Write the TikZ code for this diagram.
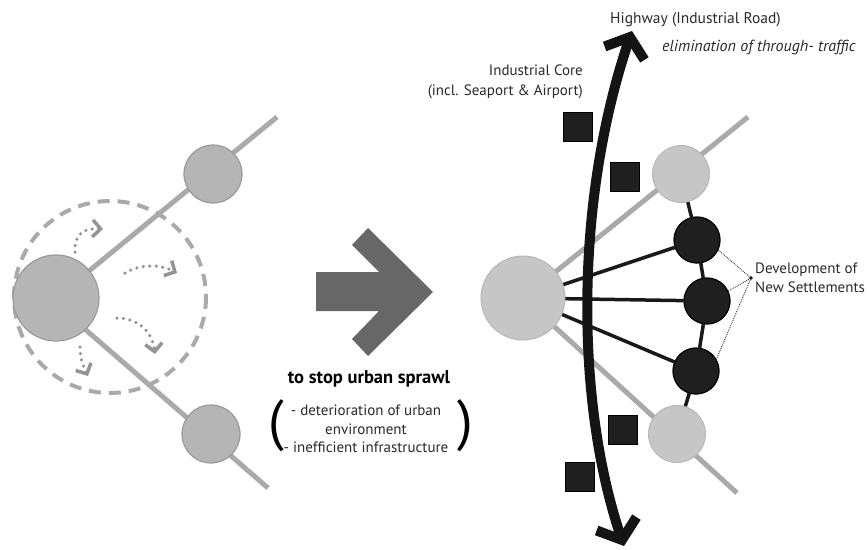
\documentclass[tikz,border=0pt]{standalone}
\usepackage{fontspec}
\setmainfont{PT Sans}
\usetikzlibrary{arrows.meta}
\definecolor{lgray}{HTML}{B5B5B5}
\definecolor{lgrayedge}{HTML}{9A9A9A}
\definecolor{rgray}{HTML}{C6C6C6}
\definecolor{linegray}{HTML}{AAAAAA}
\definecolor{arrowgray}{HTML}{676767}
\definecolor{txt}{HTML}{2A2A2A}
\tikzset{
  lcirc/.style={circle, fill=lgray, draw=lgrayedge, line width=1.2pt, inner sep=0pt},
  rcirc/.style={circle, fill=rgray, draw=lgrayedge!70, line width=1pt, inner sep=0pt},
  dcirc/.style={circle, fill=black!88, draw=black, line width=1pt, inner sep=0pt, minimum size=46pt},
  graylink/.style={draw=linegray, line width=5pt},
  blacklink/.style={draw=black!90, line width=3.5pt},
  sq/.style={rectangle, fill=black!88, draw=black, line width=0.8pt, minimum size=29pt, inner sep=0pt},
  dotarrow/.style={draw=black!42, line width=3.5pt, line cap=round, dash pattern=on 0pt off 6.5pt,
     -{Straight Barb[length=8pt,width=17pt,line width=3.5pt]}},
  lbl/.style={text=txt, font=\fontsize{15}{17}\selectfont, inner sep=0pt},
}
\begin{document}
\begin{tikzpicture}[x=1pt,y=-1pt]
\useasboundingbox (0,0) rectangle (867,549);
\fill[white] (0,0) rectangle (867,549);

% ---------------- left part ----------------
\coordinate (LUend) at (277,117);
\coordinate (LDend) at (268,488);
\coordinate (Lc) at (56,298);
\draw[draw=linegray, line width=4pt, dash pattern=on 12pt off 8pt] (110,297) circle (96);
\draw[graylink] (Lc) -- (LUend);
\draw[graylink] (Lc) ++(0,6) -- (LDend);
\node[lcirc, minimum size=86pt] (L) at (Lc) {};
\node[lcirc, minimum size=58pt] (LU) at (213,174) {};
\node[lcirc, minimum size=58pt] (LD) at (211,434) {};

\coordinate (a1s) at (75,252); \coordinate (a1e) at (103,229);
\coordinate (a2s) at (125,273); \coordinate (a2e) at (177,273);
\coordinate (a3s) at (117,318); \coordinate (a3e) at (155,354);
\coordinate (a4s) at (80,347);  \coordinate (a4e) at (88,376);
\draw[dotarrow] (a1s) .. controls (74,234) and (84,228) .. (a1e);
\draw[dotarrow] (a2s) .. controls (140,264) and (160,264) .. (a2e);
\draw[dotarrow] (a3s) .. controls (136,318) and (152,330) .. (a3e);
\draw[dotarrow] (a4s) .. controls (80,358) and (83,366) .. (a4e);

% ---------------- central arrow ----------------
\fill[arrowgray] (316,272) -- (379,272) -- (352,245) -- (368,228) -- (433,292)
  -- (368,356) -- (352,339) -- (379,311) -- (316,311) -- cycle;

\node[text=black, font=\fontsize{18.5}{20}\selectfont\bfseries, inner sep=0pt] (stop) at (369,379) {to stop urban sprawl};
\node[lbl, align=center, font=\fontsize{15}{18.5}\selectfont] (reasons) at (366,429)
  {- deterioration of urban\\ environment\\ - inefficient infrastructure};
\node[text=black, font=\fontsize{56}{56}\selectfont, inner sep=0pt] (lp) at (276,426) {(};
\node[text=black, font=\fontsize{56}{56}\selectfont, inner sep=0pt] (rp) at (465,426) {)};

% ---------------- right part ----------------
\coordinate (Rc) at (523,298);
\coordinate (RUend) at (748,117);
\coordinate (RDend) at (737,493);
\draw[graylink] (Rc) -- (RUend);
\draw[graylink] (Rc) -- (RDend);

\node[dcirc] (D1) at (697,240) {};
\node[dcirc] (D2) at (707,301) {};
\node[dcirc] (D3) at (696,371) {};
\node[rcirc, minimum size=57pt] (RU) at (681,174) {};
\node[rcirc, minimum size=57pt] (RD) at (677,434) {};

\draw[blacklink] (Rc) -- (D1);
\draw[blacklink] (Rc) -- (D2);
\draw[blacklink] (Rc) -- (D3);
\draw[blacklink] (RU) -- (D1);
\draw[blacklink] (D1) -- (D2);
\draw[blacklink] (D2) -- (D3);
\draw[blacklink] (D3) -- (RD);
\node[dcirc] at (D1) {};
\node[dcirc] at (D2) {};
\node[dcirc] at (D3) {};

% highway
\coordinate (Htop) at (632,31);
\coordinate (Hbot) at (624,546);
\draw[line width=10pt, draw=black!92,
  {Straight Barb[length=17pt,width=42pt]}-{Straight Barb[length=17pt,width=42pt]}]
  (Hbot) .. controls (575,400) and (575,200) .. (Htop);

\node[rcirc, minimum size=84pt] (R) at (Rc) {};

\node[sq] (S1) at (578,127) {};
\node[sq] (S2) at (625,177) {};
\node[sq] (S3) at (623,430) {};
\node[sq] (S4) at (580,477) {};

% labels
\node[lbl, anchor=west, font=\fontsize{15.5}{17}\selectfont] (hw) at (610,20) {Highway (Industrial Road)};
\node[lbl, anchor=west, font=\fontsize{16}{18}\selectfont\itshape] (elim) at (662,47) {elimination of through- traffic};
\node[lbl, anchor=east, align=right, font=\fontsize{15}{20}\selectfont] (core) at (583,82) {Industrial Core\\(incl. Seaport \& Airport)};

\coordinate (DP) at (751,278);
\draw[densely dotted, line width=0.9pt, draw=black!80] (D1.-25) -- (DP);
\draw[densely dotted, line width=0.9pt, draw=black!80] (D2.25) -- (DP);
\draw[densely dotted, line width=0.9pt, draw=black!80] (D3.30) -- (DP);
\fill[black] (DP) circle (1.8);
\node[lbl, anchor=west, align=left, font=\fontsize{15}{19}\selectfont] (dev) at (755,278) {Development of\\New Settlements};
\end{tikzpicture}
\end{document}
